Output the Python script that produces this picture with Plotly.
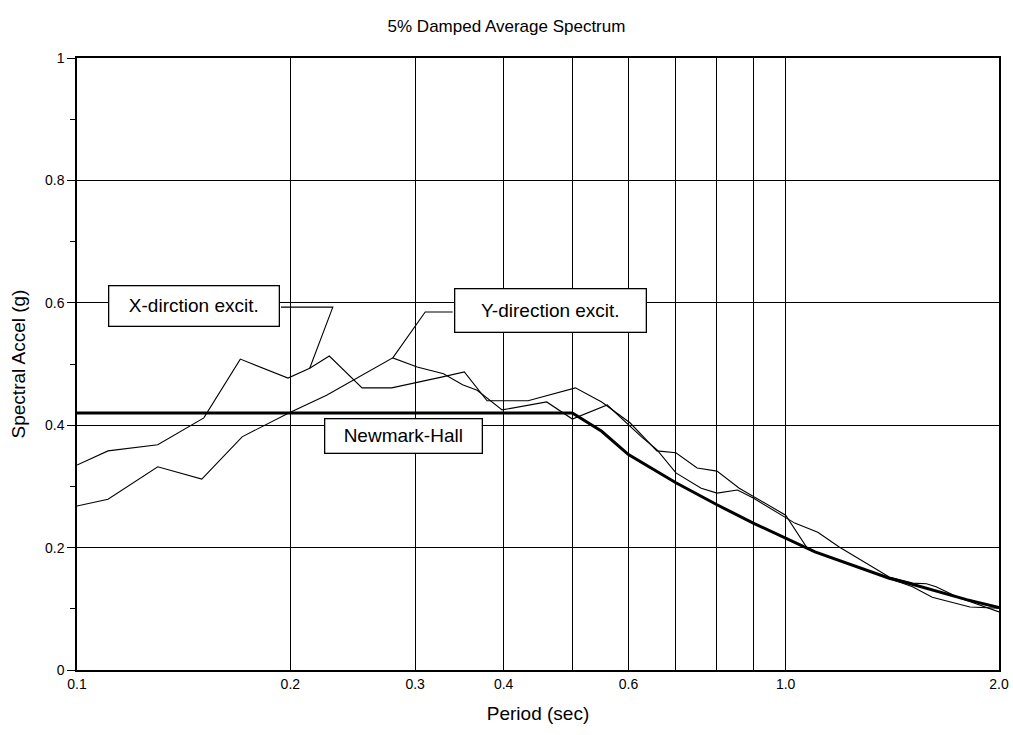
import numpy as np
import plotly.graph_objects as go

# ---------------- data ----------------
x_period = [0.100, 0.1106, 0.130, 0.151, 0.170, 0.1985, 0.213, 0.227, 0.2525, 0.278,
            0.328, 0.352, 0.379, 0.433, 0.505, 0.55, 0.603, 0.658, 0.70, 0.75, 0.80,
            0.86, 1.00, 1.07, 1.11, 1.40, 1.51, 1.61, 1.82, 2.00]
x_accel = [0.335, 0.358, 0.368, 0.412, 0.508, 0.477, 0.493, 0.513, 0.461, 0.461,
           0.479, 0.487, 0.440, 0.440, 0.461, 0.438, 0.404, 0.358, 0.355, 0.330, 0.325,
           0.297, 0.253, 0.201, 0.191, 0.150, 0.136, 0.119, 0.103, 0.101]

y_period = [0.100, 0.1106, 0.130, 0.150, 0.171, 0.184, 0.199, 0.225, 0.279, 0.302,
            0.329, 0.350, 0.367, 0.398, 0.460, 0.500, 0.560, 0.626, 0.658, 0.70, 0.76,
            0.80, 0.855, 0.90, 1.00, 1.03, 1.11, 1.19, 1.40, 1.51, 1.58, 1.63, 1.75, 2.00]
y_accel = [0.268, 0.279, 0.332, 0.312, 0.381, 0.400, 0.420, 0.449, 0.510, 0.495,
           0.484, 0.466, 0.457, 0.425, 0.438, 0.410, 0.433, 0.381, 0.360, 0.322, 0.297,
           0.289, 0.294, 0.281, 0.248, 0.240, 0.225, 0.201, 0.152, 0.142, 0.141, 0.136, 0.119, 0.095]

nh_period = [0.1, 0.5, 0.55, 0.6, 0.7, 0.8, 0.9, 1.0, 1.1, 1.4, 1.5, 1.8, 2.0]
nh_accel = [0.42, 0.42, 0.39, 0.352, 0.306, 0.27, 0.24, 0.216, 0.193, 0.15, 0.141, 0.115, 0.102]

x_grid = [0.1, 0.2, 0.3, 0.4, 0.5, 0.6, 0.7, 0.8, 0.9, 1.0, 2.0]
x_labels = ["0.1", "0.2", "0.3", "0.4", "", "0.6", "", "", "", "1.0", "2.0"]
y_ticks = [0, 0.2, 0.4, 0.6, 0.8, 1.0]
y_labels = ["0", "0.2", "0.4", "0.6", "0.8", "1"]
y_minor = [0.1, 0.3, 0.5, 0.7, 0.9]

title = "5% Damped Average Spectrum"
x_title = "Period (sec)"
y_title = "Spectral Accel (g)"

FONT = "Arial, Liberation Sans, sans-serif"

fig = go.Figure()
line_style = dict(color="black", width=1.1)
fig.add_trace(go.Scatter(x=x_period, y=x_accel, mode="lines", line=line_style,
                         name="X-dirction excit.", hoverinfo="skip"))
fig.add_trace(go.Scatter(x=y_period, y=y_accel, mode="lines", line=line_style,
                         name="Y-direction excit.", hoverinfo="skip"))
fig.add_trace(go.Scatter(x=nh_period, y=nh_accel, mode="lines",
                         line=dict(color="black", width=3), name="Newmark-Hall",
                         hoverinfo="skip"))

# leader lines from the label boxes to the curves
fig.add_trace(go.Scatter(x=[0.194, 0.2296, x_period[6]], y=[0.593, 0.593, x_accel[6]],
                         mode="lines", line=line_style, hoverinfo="skip"))
fig.add_trace(go.Scatter(x=[0.339, 0.31, y_period[8]], y=[0.585, 0.585, y_accel[8]],
                         mode="lines", line=line_style, hoverinfo="skip"))

box = dict(showarrow=False, bgcolor="white", bordercolor="black", borderwidth=1.3,
           borderpad=3, font=dict(family=FONT, size=19, color="black"),
           xref="x", yref="y")
fig.add_annotation(text="X-dirction excit.", x=np.log10(0.1463), y=0.595,
                   width=163, height=33, **box)
fig.add_annotation(text="Y-direction excit.", x=np.log10(0.465), y=0.588,
                   width=184, height=36, **box)
fig.add_annotation(text="Newmark-Hall", x=np.log10(0.289), y=0.382,
                   width=150, height=27, **box)

fig.update_layout(
    width=1013, height=735,
    margin=dict(l=77, r=14, t=58, b=65),
    paper_bgcolor="white", plot_bgcolor="white",
    showlegend=False,
    font=dict(family=FONT, color="black"),
    title=dict(text=title, x=0.5, xanchor="center", y=0.965, yanchor="middle",
               font=dict(family=FONT, size=17, color="black")),
)
fig.update_xaxes(
    type="log", range=[np.log10(0.1), np.log10(2.0)], automargin=False,
    tickmode="array", tickvals=x_grid, ticktext=x_labels,
    showgrid=True, gridcolor="black", gridwidth=1.4,
    showline=True, linecolor="black", linewidth=1.5, mirror=True,
    ticks="", tickfont=dict(family=FONT, size=14, color="black"),
    title=dict(text=x_title, font=dict(family=FONT, size=19, color="black"), standoff=16),
    zeroline=False,
)
fig.update_yaxes(
    range=[0, 1], tickmode="array", tickvals=y_ticks, ticktext=y_labels,
    automargin=False,
    showgrid=True, gridcolor="black", gridwidth=1.4,
    showline=True, linecolor="black", linewidth=1.5, mirror=True,
    ticks="outside", ticklen=8, tickcolor="black", tickwidth=1,
    tickfont=dict(family=FONT, size=14, color="black"),
    minor=dict(tickvals=y_minor, ticks="outside", ticklen=5, tickcolor="black",
               showgrid=False),
    title=dict(text=y_title, font=dict(family=FONT, size=19, color="black"), standoff=14),
    zeroline=False,
)

fig.write_html("out.html")
